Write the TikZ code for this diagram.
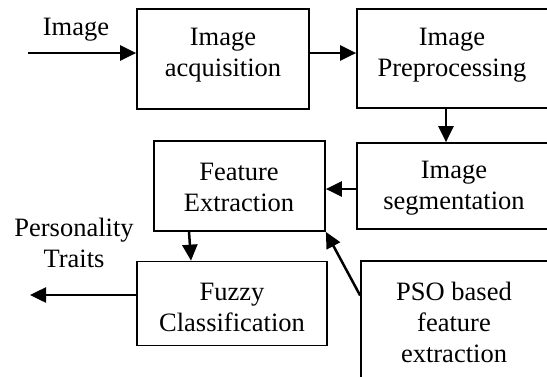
\documentclass[tikz,border=0pt]{standalone}
\usepackage{fontspec}
\setmainfont{Liberation Serif}
\usetikzlibrary{arrows.meta,calc}
\begin{document}
\begin{tikzpicture}[x=1pt,y=-1pt,
 box/.style={draw,line width=1.7pt,inner sep=0pt},
 txt/.style={align=center,font=\fontsize{26.5}{31}\selectfont,inner sep=0pt},
 arr/.style={line width=2.5pt,-{Triangle[length=16pt,width=15pt]}}]
\useasboundingbox (0,0) rectangle (547,376);
% boxes
\node[box,minimum width=172pt,minimum height=100pt] (acq) at (223,59) {};
\node[box,minimum width=191pt,minimum height=99pt] (prep) at (452.5,58.5) {};
\node[box,minimum width=191pt,minimum height=86pt] (seg) at (452.5,186) {};
\node[box,minimum width=171pt,minimum height=90pt] (fe) at (239.5,186) {};
\node[box,minimum width=190pt,minimum height=84pt] (fuzzy) at (232,303.5) {};
\node[box,minimum width=187pt,minimum height=117pt] (pso) at (454.5,319.5) {};
% texts
\node[txt] (acqT) at (223,55) {Image\\acquisition};
\node[txt] (prepT) at (452,55) {Image\\Preprocessing};
\node[txt] (segT) at (454,188) {Image\\segmentation};
\node[txt] (feT) at (239,187) {Feature\\Extraction};
\node[txt] (fuzT) at (232,307) {Fuzzy\\Classification};
\node[txt] (psoT) at (454,322) {PSO based\\feature\\extraction};
\node[txt,anchor=base] (imgL) at (76,35) {Image};
\node[txt] (persL) at (74,243) {Personality\\Traits};
% connectors
\coordinate (inA) at (28,53);
\coordinate (outA) at (30,295);
\draw[arr] (inA) -- (inA -| acq.west);
\draw[arr] (acq.east |- inA) -- (prep.west |- inA);
\draw[arr] ([xshift=-6.5pt]prep.south) -- ([xshift=-6.5pt]seg.north);
\draw[arr] ([yshift=-3pt]seg.west) -- ([yshift=-3pt]fe.east);
\draw[arr] ([xshift=-50.5pt]fe.south) -- ([xshift=-41pt]fuzzy.north);
\draw[arr] (fuzzy.west |- outA) -- (outA);
\draw[arr] ([yshift=24pt]pso.west) -- (fe.south east);
\end{tikzpicture}
\end{document}
